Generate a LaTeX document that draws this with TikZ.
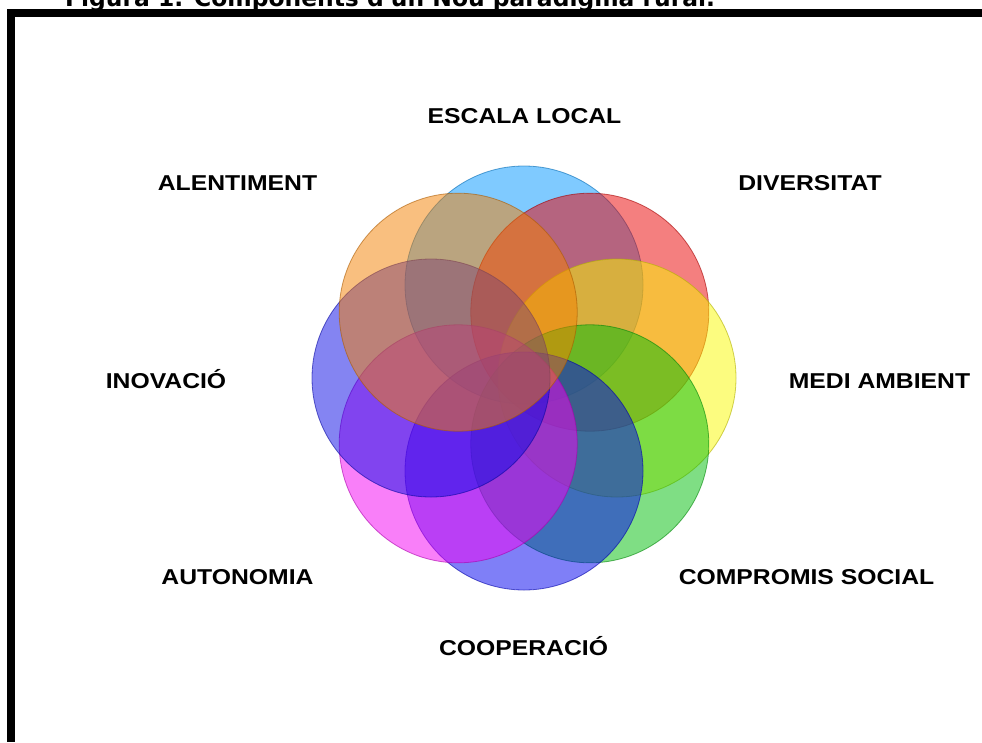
\documentclass[tikz,border=0pt]{standalone}
\usepackage{fontspec}
\usepackage{graphicx}
\usetikzlibrary{calc}
\setmainfont{Liberation Sans}
\newfontfamily\titlefont{DejaVu Sans}
\definecolor{cSky}{RGB}{0,150,255}
\definecolor{cRed}{RGB}{235,0,0}
\definecolor{cYel}{RGB}{250,250,0}
\definecolor{cGrn}{RGB}{0,190,10}
\definecolor{cBlu}{RGB}{0,0,240}
\definecolor{cMag}{RGB}{245,0,245}
\definecolor{cPur}{RGB}{10,10,230}
\definecolor{cOra}{RGB}{245,128,0}
\tikzset{
  petal/.style={circle, minimum size=238pt, inner sep=0pt, fill=#1, fill opacity=0.5, draw=#1!70!black, draw opacity=0.6, line width=0.8pt},
  lab/.style={anchor=base, inner sep=0pt, font=\bfseries\fontsize{21.5}{24}\selectfont},
}
\newcommand{\wlab}[1]{\scalebox{1.15}[1]{#1}}
\begin{document}
\begin{tikzpicture}[x=1pt,y=-1pt]
\useasboundingbox (0,0) rectangle (982,742);
\fill[white] (0,0) rectangle (982,742);
% title
\node[anchor=base west, inner sep=0pt, font=\titlefont\bfseries\fontsize{23.4}{26}\selectfont] (title) at (65,6) {Figura 1. Components d'un Nou paradigma rural.};
% frame
\fill[black] (7,9) rectangle (982,17);
\fill[black] (7,9) rectangle (15,742);
% circles
\coordinate (ctr) at (524,378);
\node[petal=cSky] (c1) at ($(ctr)+(0,-93)$) {};
\node[petal=cRed] (c2) at ($(ctr)+(65.8,-65.8)$) {};
\node[petal=cYel] (c3) at ($(ctr)+(93,0)$) {};
\node[petal=cGrn] (c4) at ($(ctr)+(65.8,65.8)$) {};
\node[petal=cBlu] (c5) at ($(ctr)+(0,93)$) {};
\node[petal=cMag] (c6) at ($(ctr)+(-65.8,65.8)$) {};
\node[petal=cPur] (c7) at ($(ctr)+(-93,0)$) {};
\node[petal=cOra] (c8) at ($(ctr)+(-65.8,-65.8)$) {};
% labels
\node[lab] (l1) at (524.5,123) {\wlab{ESCALA LOCAL}};
\node[lab] (l2) at (810,190) {\wlab{DIVERSITAT}};
\node[lab] (l3) at (879.5,388) {\wlab{MEDI AMBIENT}};
\node[lab] (l4) at (806.5,584) {\wlab{COMPROMIS SOCIAL}};
\node[lab] (l5) at (523.5,655) {\wlab{COOPERACIÓ}};
\node[lab] (l6) at (237.5,584) {\wlab{AUTONOMIA}};
\node[lab] (l7) at (166,388) {\wlab{INOVACIÓ}};
\node[lab] (l8) at (237.5,190) {\wlab{ALENTIMENT}};
\end{tikzpicture}
\end{document}
